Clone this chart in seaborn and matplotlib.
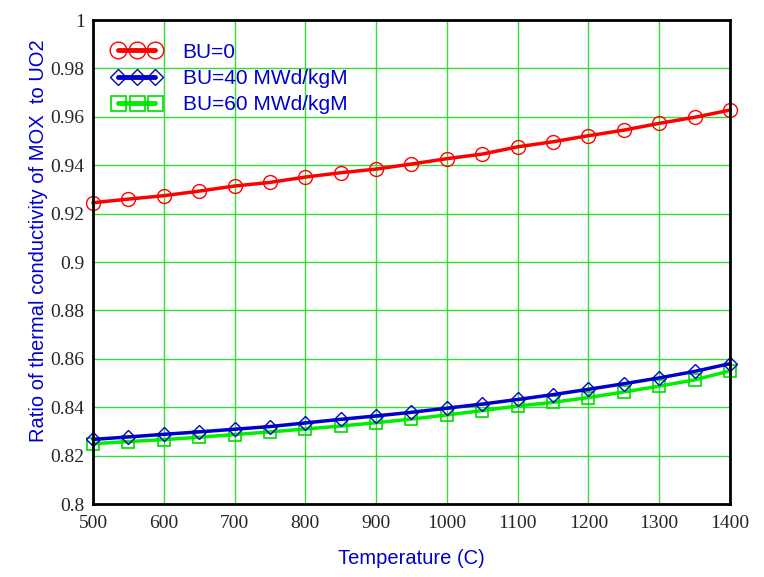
import matplotlib
matplotlib.use('Agg')
import matplotlib.pyplot as plt
import seaborn as sns
from matplotlib.ticker import FuncFormatter

# 온도 (C)
temps = [500, 550, 600, 650, 700, 750, 800, 850, 900, 950,
         1000, 1050, 1100, 1150, 1200, 1250, 1300, 1350, 1400]
# BU=0
bu0 = [0.9245, 0.9260, 0.9274, 0.9293, 0.9314, 0.9329, 0.9351, 0.9369, 0.9384, 0.9405,
       0.9427, 0.9446, 0.9476, 0.9497, 0.9522, 0.9545, 0.9573, 0.9598, 0.9628]
# BU=40 MWd/kgM
bu40 = [0.8267, 0.8277, 0.8288, 0.8298, 0.8309, 0.8320, 0.8335, 0.8350, 0.8364, 0.8379,
        0.8396, 0.8413, 0.8432, 0.8452, 0.8474, 0.8497, 0.8521, 0.8548, 0.8580]
# BU=60 MWd/kgM
bu60 = [0.8249, 0.8258, 0.8266, 0.8276, 0.8287, 0.8298, 0.8310, 0.8322, 0.8336, 0.8351,
        0.8368, 0.8386, 0.8405, 0.8420, 0.8440, 0.8463, 0.8487, 0.8513, 0.8550]

labels = ['BU=0', 'BU=40 MWd/kgM', 'BU=60 MWd/kgM']
xticks = [500, 600, 700, 800, 900, 1000, 1100, 1200, 1300, 1400]
yticks = [0.8, 0.82, 0.84, 0.86, 0.88, 0.9, 0.92, 0.94, 0.96, 0.98, 1.0]

sns.set_style('white')
fig = plt.figure(figsize=(7.64, 5.77), dpi=100)
ax = fig.add_axes([0.1217, 0.1265, 0.8338, 0.8388])

sns.lineplot(x=temps, y=bu0, ax=ax, color='#ff0000', lw=2.5, marker='o', ms=10,
             mfc='none', mec='#ff0000', mew=1.0, label=labels[0], clip_on=False, zorder=5)
sns.lineplot(x=temps, y=bu40, ax=ax, color='#0000cc', lw=2.5, marker='D', ms=7,
             mfc='none', mec='#0000cc', mew=1.0, label=labels[1], clip_on=False, zorder=5)
sns.lineplot(x=temps, y=bu60, ax=ax, color='#00ee00', lw=2.5, marker='s', ms=9,
             mfc='none', mec='#00dd00', mew=1.2, label=labels[2], clip_on=False, zorder=4)

ax.set_xlim(500, 1400)
ax.set_ylim(0.8, 1.0)
ax.set_xticks(xticks)
ax.set_yticks(yticks)
ax.yaxis.set_major_formatter(FuncFormatter(lambda v, p: '{:g}'.format(round(v, 2))))
ax.grid(True, color='#33dd33', lw=1.0)
ax.set_axisbelow(True)
ax.tick_params(axis='y', length=0, pad=6)
ax.tick_params(axis='x', length=0, pad=8)
for t in ax.get_xticklabels() + ax.get_yticklabels():
    t.set_family('Liberation Serif')
    t.set_fontsize(14)
for s in ax.spines.values():
    s.set_color('black')
    s.set_linewidth(2)
    s.set_zorder(6)

ax.set_xlabel('Temperature (C)', color='#0000cc', fontsize=14.5,
              family='Liberation Sans', labelpad=12)
ax.set_ylabel('Ratio of thermal conductivity of MOX  to UO2', color='#0000cc',
              fontsize=14.5, family='Liberation Sans')
ax.yaxis.set_label_coords(-0.07, 0.545)

leg = ax.legend(loc='upper left', bbox_to_anchor=(0.0, 0.992), frameon=False,
                numpoints=3, handlelength=2.4, handletextpad=1.0, markerscale=1.2,
                labelspacing=0.35, prop={'family': 'Liberation Sans', 'size': 15})
for t in leg.get_texts():
    t.set_color('#0000cc')
for h in leg.get_lines():
    h.set_linewidth(3.5)

fig.savefig('out.png', dpi=100)
